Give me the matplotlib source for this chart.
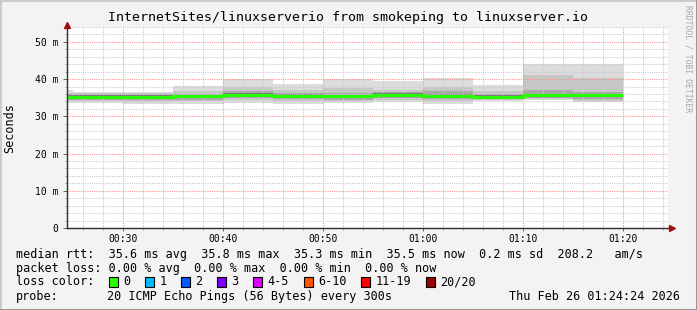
"""Smokeping latency graph: InternetSites/linuxserverio, last hour."""

import matplotlib
matplotlib.use("Agg")
import matplotlib.pyplot as plt
from matplotlib.lines import Line2D
from matplotlib.patches import Rectangle
from matplotlib.ticker import MultipleLocator, FixedLocator

# 5-minute rrd steps, minutes after 00:00 (first step is partly off the left edge)
step_edges = [20, 25, 30, 35, 40, 45, 50, 55, 60, 65, 70, 75, 80]

# ping distribution per step, milliseconds
median_ms = [35.3, 35.3, 35.3, 35.4, 35.8, 35.5, 35.4, 35.8, 35.5, 35.3, 35.6, 35.6]
ping_max = [37.1, 36.6, 36.6, 38.2, 40.0, 38.7, 40.0, 39.5, 40.2, 38.4, 44.1, 44.1]
ping_hi2 = [36.4, 36.2, 36.2, 36.8, 37.9, 37.0, 37.6, 37.2, 37.9, 36.8, 41.1, 40.4]
ping_hi3 = [35.9, 35.9, 35.9, 36.1, 36.7, 36.2, 36.2, 36.6, 36.9, 36.0, 37.1, 36.5]
ping_hi4 = [35.7, 35.7, 35.7, 35.8, 36.2, 35.9, 35.8, 36.2, 36.0, 35.7, 36.1, 36.0]
ping_lo4 = [34.8, 34.8, 34.8, 34.9, 35.3, 35.0, 34.9, 35.3, 35.0, 34.8, 35.1, 35.1]
ping_lo3 = [34.5, 34.5, 34.4, 34.5, 34.8, 34.6, 34.5, 34.8, 34.6, 34.6, 34.8, 34.6]
ping_lo2 = [34.1, 34.1, 33.9, 34.0, 34.3, 34.0, 34.0, 34.3, 34.0, 34.4, 34.6, 34.2]
ping_min = [33.6, 33.6, 33.3, 33.4, 33.7, 33.4, 33.6, 33.9, 33.4, 34.2, 34.4, 33.8]

x_ticks = [30, 40, 50, 60, 70, 80]
x_labels = ["00:30", "00:40", "00:50", "01:00", "01:10", "01:20"]
y_ticks = [0, 10, 20, 30, 40, 50]
y_labels = ["0", "10 m", "20 m", "30 m", "40 m", "50 m"]

title = "InternetSites/linuxserverio from smokeping to linuxserver.io"
legend_lines = [
    "median rtt:  35.6 ms avg  35.8 ms max  35.3 ms min  35.5 ms now  0.2 ms sd  208.2   am/s",
    "packet loss: 0.00 % avg  0.00 % max  0.00 % min  0.00 % now",
]
loss_labels = ["0", "1", "2", "3", "4-5", "6-10", "11-19", "20/20"]
loss_colors = ["#26ff00", "#00b8ff", "#0059ff", "#7e00ff", "#dd00ff",
               "#ff5500", "#ff0000", "#a10000"]
probe_text = "20 ICMP Echo Pings (56 Bytes) every 300s"
stamp_text = "Thu Feb 26 01:24:24 2026"

W, H = 697, 310
plt.rcParams["font.family"] = "DejaVu Sans Mono"

fig = plt.figure(figsize=(W / 100, H / 100), dpi=100, facecolor="#f3f3f3")


def fx(px):
    return px / W


def fy(py):
    return 1 - py / H


# plot area 67..668 x 27..228 px
ax = fig.add_axes([fx(67), fy(228), fx(668) - fx(67), fy(27) - fy(228)])
ax.set_facecolor("white")
ax.set_xlim(24.4, 84.5)
ax.set_ylim(0, 54)

# smoke, outer (light) to inner (dark)
bands = [
    (ping_min, ping_max, "#dcdcdc"),
    (ping_lo2, ping_hi2, "#c6c6c6"),
    (ping_lo3, ping_hi3, "#a8a8a8"),
    (ping_lo4, ping_hi4, "#7a7a7a"),
]
for lo, hi, col in bands:
    ax.stairs(hi, step_edges, baseline=lo, fill=True, color=col, lw=0, zorder=1)

ax.stairs(median_ms, step_edges, baseline=None, color=loss_colors[0],
          lw=2.2, zorder=4)

# grid
ax.xaxis.set_major_locator(FixedLocator(x_ticks))
ax.xaxis.set_minor_locator(MultipleLocator(2))
ax.yaxis.set_major_locator(FixedLocator(y_ticks))
ax.yaxis.set_minor_locator(MultipleLocator(2))
ax.set_xticklabels(x_labels)
ax.set_yticklabels(y_labels)
ax.grid(which="minor", color="#cccccc", linestyle=(0, (1, 1)), lw=0.8, zorder=2)
ax.grid(which="major", color="#ff9494", linestyle=(0, (1, 1)), lw=0.8, zorder=2)
ax.set_axisbelow(False)

for s in ("top", "right"):
    ax.spines[s].set_visible(False)
for s in ("left", "bottom"):
    ax.spines[s].set_color("#303030")
    ax.spines[s].set_linewidth(1.0)
    ax.spines[s].set_zorder(5)

ax.tick_params(axis="y", which="major", length=3, width=0.7, pad=3,
               labelsize=7, color="#606060")
ax.tick_params(axis="x", which="major", length=2, width=0.7, pad=2,
               labelsize=7, color="#606060")
ax.tick_params(which="minor", length=1.5, width=0.6, color="#909090")

# axis arrows
ax.plot([0], [1.01], marker="^", ms=5, color="#a01010", transform=ax.transAxes,
        clip_on=False, zorder=6)
ax.plot([1.006], [0], marker=">", ms=5, color="#a01010", transform=ax.transAxes,
        clip_on=False, zorder=6)

fig.text(fx(10), fy(128), "Seconds", rotation=90, ha="center", va="center",
         fontsize=8.5)
fig.text(fx(348), fy(18), title, ha="center", va="center", fontsize=9.5)
fig.text(fx(688), fy(5), "RRDTOOL / TOBI OETIKER", rotation=270, ha="center",
         va="top", fontsize=5.8, color="#a8a8a8")

# legend
line_y = [254.5, 268.3, 281.7, 296.7]
for txt, py in zip(legend_lines, line_y[:2]):
    fig.text(fx(16), fy(py), txt, ha="left", va="center", fontsize=8.5)

fig.text(fx(16), fy(line_y[2]), "loss color:", ha="left", va="center", fontsize=8.5)
cw = 7.13
cx = 108.7
for lab, col in zip(loss_labels, loss_colors):
    fig.add_artist(Rectangle((fx(cx), fy(line_y[2] + 5)), fx(9), 10 / H,
                             facecolor=col, edgecolor="black", lw=0.8,
                             transform=fig.transFigure))
    tx = cx + 14.5
    fig.text(fx(tx), fy(line_y[2]), lab, ha="left", va="center", fontsize=8.5)
    cx = tx + len(lab) * cw + 14.5

fig.text(fx(16), fy(line_y[3]), "probe:", ha="left", va="center", fontsize=8.5)
fig.text(fx(107), fy(line_y[3]), probe_text, ha="left", va="center", fontsize=8.5)
fig.text(fx(680), fy(line_y[3]), stamp_text, ha="right", va="center", fontsize=8.5)

# 3d-ish frame
fig.add_artist(Line2D([0, 0, 1], [0, 1, 1], color="#cbcbcb", lw=2.2,
                      transform=fig.transFigure))
fig.add_artist(Line2D([0, 1, 1], [0, 0, 1], color="#999999", lw=2.2,
                      transform=fig.transFigure))

fig.savefig("out.png", dpi=100, facecolor=fig.get_facecolor())
